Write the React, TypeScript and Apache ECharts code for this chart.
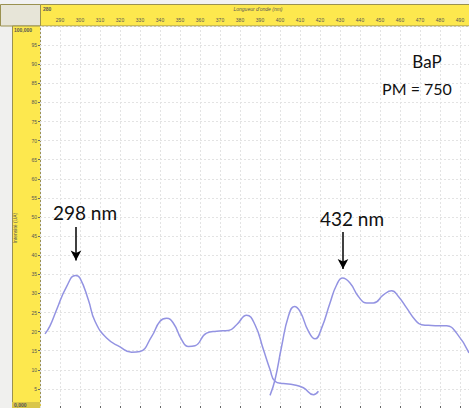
import React, { useEffect, useRef } from "react";
import * as echarts from "echarts";

const seriesA: [number, number][] = [
  [282.5, 19.4], [285, 21.5], [288.3, 25.7], [293.3, 31.8], [297.8, 34.7], [300, 34.0],
  [304.2, 28.3], [307.5, 22.7], [313.3, 18.3], [320, 16.0], [325.8, 14.6], [330, 14.8],
  [335.8, 18.7], [340, 22.7], [343.3, 23.5], [346.7, 22.2], [350.8, 17.9], [354.2, 16.1],
  [357.5, 16.3], [363.3, 19.6], [368.3, 20.1], [374.2, 20.3], [378.3, 21.8], [383.3, 24.3],
  [387.5, 21.8], [391.7, 15.3], [395, 10.1], [397.5, 7.0], [401.7, 6.4], [406.7, 6.1],
  [411.7, 5.3], [416.7, 3.5], [419.2, 4.4],
];
const seriesB: [number, number][] = [
  [395, 3.3], [397.5, 7.4], [400.8, 16.1], [404.2, 24.0], [407.2, 26.6], [410, 25.3],
  [414.2, 20.1], [417.5, 18.1], [420.8, 20.9], [425, 27.5], [428.3, 32.2], [431.3, 34.0],
  [435, 32.7], [439.2, 29.2], [443.3, 27.5], [446.7, 27.5], [451.7, 29.6], [455.8, 30.7],
  [459.2, 29.2], [463.3, 26.2], [467.5, 23.1], [470.8, 21.8], [475.8, 21.6], [483.3, 21.5],
  [488.3, 19.6], [494.5, 14.4],
];
const peakA = { nm: 298, top: 47.4, bottom: 38.6, label: "298 nm" };
const peakB = { nm: 431.5, top: 46.1, bottom: 36.4, label: "432 nm" };
const xMin = 280;
const xMax = 494.5;
const yMin = 0;
const yMax = 100;
const xTitle = "Longueur d'onde (nm)";
const yTitle = "Intensité (UA)";
const compound = "BaP";
const massLabel = "PM = 750";

export default function App() {
  const ref = useRef<HTMLDivElement>(null);
  useEffect(() => {
    if (!ref.current) return;
    const chart = echarts.init(ref.current, null, { renderer: "svg" });
    const lineColor = "#9393e2";
    const yellow = "#fde84e";
    const border = "#9a9150";
    const small = { fontFamily: "Liberation Sans", fontSize: 5, fill: "#555" };
    chart.setOption({
      animation: false,
      backgroundColor: "#ffffff",
      grid: { left: 40, top: 26, right: 0, bottom: 0, containLabel: false },
      xAxis: {
        type: "value",
        position: "top",
        min: xMin,
        max: xMax,
        interval: 10,
        axisLine: { show: false },
        axisTick: { show: true, length: 2, lineStyle: { color: "#666" } },
        axisLabel: {
          showMinLabel: false,
          fontSize: 5,
          color: "#555",
          margin: 4,
          fontFamily: "Liberation Sans",
        },
        splitLine: { show: true, lineStyle: { color: "#e3e3e3", type: [2, 2], width: 1 } },
      },
      yAxis: {
        type: "value",
        min: yMin,
        max: yMax,
        interval: 5,
        axisLine: { show: false },
        axisTick: { show: true, length: 2, lineStyle: { color: "#666" } },
        axisLabel: {
          showMinLabel: false,
          showMaxLabel: false,
          fontSize: 5,
          color: "#555",
          margin: 3,
          fontFamily: "Liberation Sans",
        },
        splitLine: { show: true, lineStyle: { color: "#e3e3e3", type: [2, 2], width: 1 } },
      },
      series: [
        {
          type: "line",
          data: seriesA,
          smooth: 0.5,
          showSymbol: false,
          lineStyle: { color: lineColor, width: 1.5 },
          z: 3,
          markLine: {
            silent: true,
            symbol: ["none", "arrow"],
            symbolSize: [8, 10],
            label: { show: false },
            lineStyle: { color: "#000", width: 1.5, type: "solid" },
            data: [
              [{ coord: [peakA.nm, peakA.top] }, { coord: [peakA.nm, peakA.bottom] }],
              [{ coord: [peakB.nm, peakB.top] }, { coord: [peakB.nm, peakB.bottom] }],
            ],
          },
        },
        {
          type: "line",
          data: seriesB,
          smooth: 0.5,
          showSymbol: false,
          lineStyle: { color: lineColor, width: 1.5 },
          z: 3,
        },
      ],
      graphic: [
        { type: "rect", z: -100, shape: { x: 0, y: 0, width: 469, height: 4 }, style: { fill: "#f2f2f2" } },
        { type: "rect", z: -100, shape: { x: 0, y: 4, width: 12, height: 404 }, style: { fill: "#f0f0ee" } },
        { type: "rect", z: -90, shape: { x: 40.5, y: 4.5, width: 430, height: 21.5 }, style: { fill: yellow, stroke: border, lineWidth: 1 } },
        { type: "rect", z: -90, shape: { x: 0.5, y: 4.5, width: 40, height: 21.5 }, style: { fill: "#e7e5d8", stroke: border, lineWidth: 1 } },
        { type: "rect", z: -90, shape: { x: 12.5, y: 26, width: 28, height: 378 }, style: { fill: yellow, stroke: border, lineWidth: 1 } },
        { type: "rect", z: -90, shape: { x: 12, y: 402, width: 29, height: 6 }, style: { fill: "#d9c64a" } },
        { type: "text", z: 10, x: 43, y: 9, style: { ...small, text: "280", fontWeight: "bold", textVerticalAlign: "middle" } },
        { type: "text", z: 10, x: 258, y: 9, style: { ...small, text: xTitle, fontStyle: "italic", textAlign: "center", textVerticalAlign: "middle" } },
        { type: "text", z: 10, x: 14, y: 29.5, style: { ...small, text: "100,000", fontWeight: "bold", textVerticalAlign: "middle" } },
        { type: "text", z: 10, x: 14, y: 405, style: { ...small, text: "0,000", fontWeight: "bold", textVerticalAlign: "middle" } },
        { type: "text", z: 10, x: 15, y: 228, rotation: Math.PI / 2, style: { ...small, text: yTitle, textAlign: "center", textVerticalAlign: "middle" } },
        { type: "text", z: 10, x: 427, y: 61, style: { text: compound, fontFamily: "Lato", fontSize: 17, fill: "#111", textAlign: "center", textVerticalAlign: "middle" } },
        { type: "text", z: 10, x: 417, y: 88, style: { text: massLabel, fontFamily: "Lato", fontSize: 16, fill: "#111", textAlign: "center", textVerticalAlign: "middle" } },
        { type: "text", z: 10, x: 85, y: 212, style: { text: peakA.label, fontFamily: "Lato", fontSize: 19, fill: "#111", textAlign: "center", textVerticalAlign: "middle" } },
        { type: "text", z: 10, x: 352, y: 218, style: { text: peakB.label, fontFamily: "Lato", fontSize: 19, fill: "#111", textAlign: "center", textVerticalAlign: "middle" } },
      ],
    });
    return () => chart.dispose();
  }, []);
  return (
    <div
      ref={ref}
      style={{ position: "fixed", left: 0, top: 0, width: 469, height: 408 }}
    />
  );
}
